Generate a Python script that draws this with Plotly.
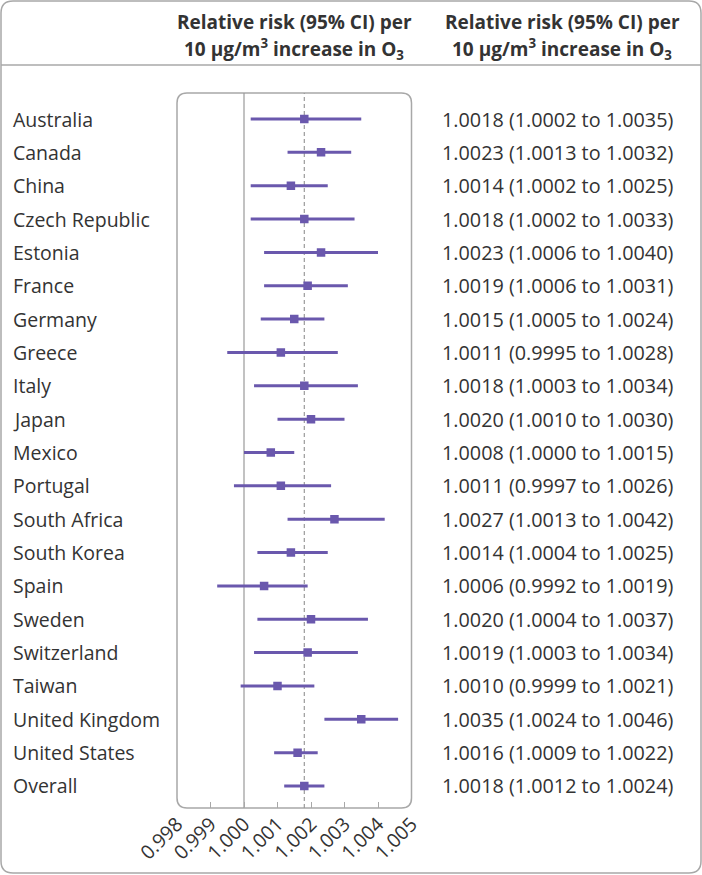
import plotly.graph_objects as go

countries = ["Australia", "Canada", "China", "Czech Republic", "Estonia", "France",
             "Germany", "Greece", "Italy", "Japan", "Mexico", "Portugal",
             "South Africa", "South Korea", "Spain", "Sweden", "Switzerland",
             "Taiwan", "United Kingdom", "United States", "Overall"]
rr = [1.0018, 1.0023, 1.0014, 1.0018, 1.0023, 1.0019, 1.0015, 1.0011, 1.0018, 1.0020,
      1.0008, 1.0011, 1.0027, 1.0014, 1.0006, 1.0020, 1.0019, 1.0010, 1.0035, 1.0016,
      1.0018]
ci_low = [1.0002, 1.0013, 1.0002, 1.0002, 1.0006, 1.0006, 1.0005, 0.9995, 1.0003, 1.0010,
          1.0000, 0.9997, 1.0013, 1.0004, 0.9992, 1.0004, 1.0003, 0.9999, 1.0024, 1.0009,
          1.0012]
ci_high = [1.0035, 1.0032, 1.0025, 1.0033, 1.0040, 1.0031, 1.0024, 1.0028, 1.0034, 1.0030,
           1.0015, 1.0026, 1.0042, 1.0025, 1.0019, 1.0037, 1.0034, 1.0021, 1.0046, 1.0022,
           1.0024]
x_ticks = [0.998, 0.999, 1.000, 1.001, 1.002, 1.003, 1.004, 1.005]
x_tick_labels = ["0.998", "0.999", "1.000", "1.001", "1.002", "1.003", "1.004", "1.005"]
header_line1 = "Relative risk (95% CI) per"
header_line2 = "10 μg/m<sup>3</sup> increase in O<sub>3</sub>"

W, H = 702, 875
PURPLE = "#6a58ad"
GRAY = "#a8a8a8"
TEXT = "#333333"
FONT = "Open Sans"


def px(x):
    return x / W


def py(y):
    return 1 - y / H


def rrect(x0, y0, x1, y1, r):
    pts = [
        f"M {px(x0 + r)},{py(y0)}",
        f"L {px(x1 - r)},{py(y0)}",
        f"Q {px(x1)},{py(y0)} {px(x1)},{py(y0 + r)}",
        f"L {px(x1)},{py(y1 - r)}",
        f"Q {px(x1)},{py(y1)} {px(x1 - r)},{py(y1)}",
        f"L {px(x0 + r)},{py(y1)}",
        f"Q {px(x0)},{py(y1)} {px(x0)},{py(y1 - r)}",
        f"L {px(x0)},{py(y0 + r)}",
        f"Q {px(x0)},{py(y0)} {px(x0 + r)},{py(y0)}",
        "Z",
    ]
    return " ".join(pts)


n = len(countries)
ypos = list(range(n))

fig = go.Figure()
fig.add_trace(go.Scatter(
    x=rr, y=ypos, mode="markers",
    marker=dict(symbol="square", size=8.5, color=PURPLE),
    error_x=dict(type="data", symmetric=False,
                 array=[h - e for h, e in zip(ci_high, rr)],
                 arrayminus=[e - l for e, l in zip(rr, ci_low)],
                 thickness=3, width=0, color=PURPLE),
    showlegend=False, hoverinfo="skip",
))

box_l, box_r, box_t, box_b = 177, 411.5, 93, 808

fig.update_layout(
    width=W, height=H,
    margin=dict(l=0, r=0, t=0, b=0, autoexpand=False),
    paper_bgcolor="white", plot_bgcolor="white",
    font=dict(family=FONT, color=TEXT),
    xaxis=dict(domain=[px(box_l), px(box_r)], range=[0.998, 1.005], automargin=False,
               tickvals=x_ticks, ticktext=x_tick_labels, tickangle=-45,
               ticks="inside", ticklen=6, tickcolor=GRAY, tickwidth=1,
               showgrid=False, zeroline=False, showline=False,
               tickfont=dict(size=19.5, color=TEXT, family=FONT)),
    yaxis=dict(domain=[py(box_b), py(box_t)], range=[20.66, -0.78], automargin=False,
               showticklabels=False, showgrid=False, zeroline=False,
               showline=False, ticks=""),
)

shapes = [
    dict(type="path", xref="paper", yref="paper", path=rrect(1, 1, 701, 873, 12),
         line=dict(color=GRAY, width=1.5), layer="below"),
    dict(type="line", xref="paper", yref="paper", x0=px(1), x1=px(701), y0=py(65), y1=py(65),
         line=dict(color=GRAY, width=1.5), layer="below"),
    dict(type="path", xref="paper", yref="paper", path=rrect(box_l, box_t, box_r, box_b, 10),
         line=dict(color=GRAY, width=1.5), layer="below"),
    dict(type="line", xref="x", yref="paper", x0=1.0, x1=1.0, y0=py(box_b), y1=py(box_t),
         line=dict(color="#999999", width=1.2), layer="below"),
    dict(type="line", xref="x", yref="paper", x0=rr[-1], x1=rr[-1], y0=py(box_b), y1=py(box_t),
         line=dict(color="#999999", width=1.2, dash="4px,3px"), layer="below"),
]
fig.update_layout(shapes=shapes)

ann = []
for i, c in enumerate(countries):
    ann.append(dict(x=px(11), y=i, xref="paper", yref="y", text=c, showarrow=False,
                    xanchor="left", yanchor="middle", font=dict(size=19.5, color=TEXT)))
    txt = f"{rr[i]:.4f} ({ci_low[i]:.4f} to {ci_high[i]:.4f})"
    ann.append(dict(x=px(440), y=i, xref="paper", yref="y", text=txt, showarrow=False,
                    xanchor="left", yanchor="middle", font=dict(size=19.8, color=TEXT)))

for cx in [(box_l + box_r) / 2, 562]:
    ann.append(dict(x=px(cx), y=py(22), xref="paper", yref="paper", text=f"<b>{header_line1}</b>",
                    showarrow=False, xanchor="center", yanchor="middle", align="center",
                    font=dict(size=19, color=TEXT)))
    ann.append(dict(x=px(cx), y=py(49), xref="paper", yref="paper", text=f"<b>{header_line2}</b>",
                    showarrow=False, xanchor="center", yanchor="middle", align="center",
                    font=dict(size=19, color=TEXT)))
fig.update_layout(annotations=ann)

fig.write_html("out.html", post_script="document.body.style.margin='0';",
               config={"displayModeBar": False})
